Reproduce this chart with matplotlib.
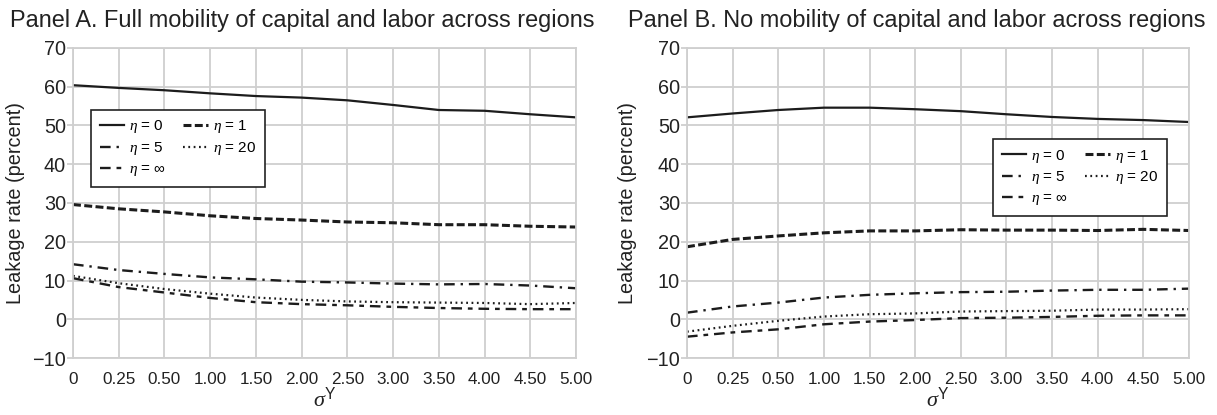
import matplotlib
matplotlib.use('Agg')
import matplotlib.pyplot as plt
import numpy as np

# --- DATA ---
tick_labels = ['0', '0.25', '0.50', '1.00', '1.50', '2.00', '2.50',
               '3.00', '3.50', '4.00', '4.50', '5.00']
ytick_values = [-10, 0, 10, 20, 30, 40, 50, 60, 70]
eta_labels = ['0', '1', '5', '20', r'$\infty$']

# Panel A: full mobility
a_eta0 = [60.4, 59.7, 59.1, 58.3, 57.6, 57.2, 56.5, 55.3, 54.0, 53.8, 52.9, 52.1]
a_eta1 = [29.6, 28.5, 27.7, 26.7, 26.0, 25.6, 25.1, 24.9, 24.4, 24.4, 24.0, 23.8]
a_eta5 = [14.2, 12.7, 11.7, 10.8, 10.3, 9.7, 9.5, 9.2, 9.0, 9.1, 8.7, 8.0]
a_eta20 = [11.2, 9.3, 7.8, 6.6, 5.6, 5.0, 4.6, 4.4, 4.3, 4.2, 3.9, 4.2]
a_etainf = [10.6, 8.3, 6.9, 5.5, 4.4, 3.9, 3.6, 3.2, 2.9, 2.7, 2.6, 2.6]

# Panel B: no mobility
b_eta0 = [52.1, 53.1, 54.0, 54.6, 54.6, 54.2, 53.7, 52.9, 52.2, 51.7, 51.4, 50.9]
b_eta1 = [18.7, 20.6, 21.5, 22.3, 22.8, 22.8, 23.1, 23.0, 23.0, 22.9, 23.2, 22.9]
b_eta5 = [1.7, 3.3, 4.3, 5.6, 6.3, 6.7, 7.0, 7.1, 7.4, 7.6, 7.6, 7.9]
b_eta20 = [-3.2, -1.7, -0.4, 0.7, 1.3, 1.5, 2.0, 2.1, 2.2, 2.5, 2.5, 2.6]
b_etainf = [-4.5, -3.4, -2.6, -1.3, -0.6, -0.2, 0.3, 0.4, 0.6, 0.9, 1.0, 1.0]

plt.rcParams['font.family'] = ['Liberation Sans', 'DejaVu Sans']
plt.rcParams['mathtext.fontset'] = 'custom'
plt.rcParams['mathtext.rm'] = 'Liberation Sans'
plt.rcParams['mathtext.it'] = 'Liberation Serif:italic'

fig = plt.figure(figsize=(12.17, 4.15), dpi=100, facecolor='white')

line_color = '#1c1c1c'
grid_color = '#cfcfcf'
text_color = '#222222'

styles = [
    dict(linestyle='-', linewidth=1.6),
    dict(linestyle=(0, (2.6, 1.1)), linewidth=2.2),
    dict(linestyle=(0, (4.5, 2.5, 1.0, 2.5)), linewidth=1.7),
    dict(linestyle=(0, (0.8, 1.6)), linewidth=1.6),
    dict(linestyle=(0, (4.5, 2.5, 2.0, 2.5)), linewidth=1.7),
]
labels = [r'$\eta$ = ' + e for e in eta_labels]

W, H = 1217, 415


def draw_panel(left_px, right_px, title, title_x, ylab_off, data, legend_anchor):
    ax = fig.add_axes([left_px / W, 1 - 358 / H, (right_px - left_px) / W, 310 / H])
    x = np.arange(len(tick_labels))
    handles = []
    for vals, st, lab in zip(data, styles, labels):
        h, = ax.plot(x, vals, color=line_color, label=lab, **st)
        handles.append(h)
    ax.set_xlim(0, len(tick_labels) - 1)
    ax.set_ylim(-10, 70)
    ax.set_xticks(x)
    ax.set_xticklabels(tick_labels, fontsize=12.3, color=text_color)
    ax.set_yticks(ytick_values)
    ax.set_yticklabels(['\u221210' if v < 0 else str(v) for v in ytick_values],
                       fontsize=14.3, color=text_color)
    ax.grid(True, color=grid_color, linewidth=1.3)
    ax.set_axisbelow(True)
    for sp in ax.spines.values():
        sp.set_color(grid_color)
        sp.set_linewidth(1.3)
    ax.tick_params(axis='y', length=4, color=grid_color, width=1.3, pad=1)
    ax.tick_params(axis='x', length=0, pad=10)
    ax.set_ylabel('Leakage rate (percent)', fontsize=14.3, color=text_color)
    ax.yaxis.set_label_coords(ylab_off / (right_px - left_px), 0.5)
    ax.set_xlabel(r'$\sigma^{\mathrm{Y}}$', fontsize=16, color=text_color, labelpad=0)
    order = [0, 2, 4, 1, 3]
    leg = ax.legend([handles[i] for i in order], [labels[i] for i in order],
                    ncol=2, loc='upper left', bbox_to_anchor=legend_anchor,
                    borderaxespad=0, fontsize=11, frameon=True, fancybox=False,
                    edgecolor='#222222', framealpha=1, handlelength=1.6,
                    columnspacing=1.1, labelspacing=0.32, borderpad=0.55,
                    handletextpad=0.35)
    leg.get_frame().set_linewidth(1.2)
    fig.text(title_x / W, 1 - 20 / H, title, fontsize=16.9, color=text_color,
             ha='left', va='center')
    return ax


draw_panel(73, 576, 'Panel A. Full mobility of capital and labor across regions', 10, -48,
           [a_eta0, a_eta1, a_eta5, a_eta20, a_etainf], (0.036, 0.80))
draw_panel(687, 1189, 'Panel B. No mobility of capital and labor across regions', 628, -50,
           [b_eta0, b_eta1, b_eta5, b_eta20, b_etainf], (0.610, 0.706))

fig.savefig('out.png', dpi=100, facecolor='white')
